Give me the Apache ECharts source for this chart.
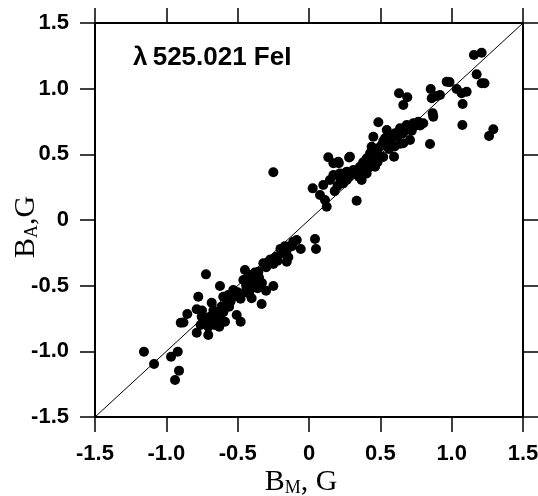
<!DOCTYPE html>
<html>
<head>
<meta charset="utf-8">
<script src="https://cdn.jsdelivr.net/npm/echarts/dist/echarts.min.js"></script>
<style>html,body{margin:0;padding:0;background:#fff}#chart{width:538px;height:496px}</style>
</head>
<body>
<div id="chart"></div>
<script>
// Magnetic field: B_M (x) vs B_A (y), in G
var bmValues = [
 -1.157,-1.086,-0.967,-0.920,-0.911,-0.939,-0.899,-0.880,-0.853,-0.776,-0.787,-0.787,-0.722,-0.624,-0.682,-0.752,-0.729,-0.706,-0.706,-0.671,
 -0.629,-0.589,-0.647,-0.612,-0.577,-0.601,-0.566,-0.531,-0.507,-0.479,-0.449,-0.460,-0.437,-0.402,-0.378,-0.355,-0.414,-0.402,-0.332,-0.301,
 -0.250,-0.320,-0.285,-0.250,-0.227,-0.191,-0.156,-0.133,-0.110,-0.086,-0.145,-0.156,-0.058,0.042,0.049,
 -0.70,-0.66,-0.62,-0.55,-0.52,-0.50,-0.48,-0.45,-0.43,-0.40,-0.38,-0.35,-0.30,-0.27,-0.22,-0.20,-0.17,-0.12,-0.75,-0.76,
 -0.72,-0.67,-0.64,-0.56,-0.60,-0.44,-0.42,-0.36,-0.33,
 -0.250,
 0.026,0.077,0.112,0.124,0.100,0.147,0.171,0.135,0.171,0.205,0.287,0.217,0.264,0.311,0.357,0.381,0.404,0.369,0.240,0.264,
 0.334,0.439,0.428,0.405,0.439,0.463,0.474,0.451,0.486,0.545,0.568,0.603,0.638,0.685,0.731,0.766,0.801,0.533,0.556,0.661,
 0.708,0.596,0.631,0.689,0.661,0.860,0.895,0.918,0.853,0.867,0.871,0.848,0.965,0.985,1.035,1.070,1.105,1.077,1.075,1.156,
 1.210,1.175,1.210,1.230,1.262,1.292,
 0.18,0.20,0.22,0.28,0.30,0.33,0.36,0.40,0.42,0.44,0.46,0.48,0.50,0.45,0.42,0.38,0.35,0.52,0.58,0.62,
 0.66,0.70,0.72,0.75,0.78,0.64,0.60,0.56,0.52,0.48,0.281,0.209
];
var baValues = [
 -1.003,-1.097,-1.041,-1.003,-1.147,-1.218,-0.782,-0.780,-0.716,-0.584,-0.680,-0.858,-0.414,-0.503,-0.630,-0.736,-0.787,-0.812,-0.876,-0.762,
 -0.812,-0.775,-0.711,-0.660,-0.634,-0.584,-0.571,-0.533,-0.723,-0.775,-0.381,-0.457,-0.495,-0.520,-0.470,-0.394,-0.419,-0.596,-0.640,-0.538,
 -0.503,-0.330,-0.318,-0.335,-0.279,-0.254,-0.229,-0.198,-0.165,-0.152,-0.284,-0.318,-0.221,-0.145,-0.221,
 -0.74,-0.80,-0.72,-0.62,-0.58,-0.55,-0.60,-0.55,-0.44,-0.45,-0.40,-0.44,-0.36,-0.30,-0.31,-0.22,-0.20,-0.20,-0.69,-0.80,
 -0.75,-0.69,-0.76,-0.66,-0.70,-0.50,-0.56,-0.52,-0.48,
 0.363,
 0.241,0.190,0.152,0.101,0.266,0.305,0.343,0.478,0.432,0.444,0.482,0.355,0.368,0.381,0.406,0.394,0.355,0.305,0.279,0.305,
 0.147,0.558,0.508,0.470,0.432,0.406,0.457,0.634,0.744,0.685,0.647,0.660,0.698,0.723,0.736,0.748,0.736,0.622,0.596,0.584,
 0.609,0.482,0.965,0.934,0.876,0.927,0.944,0.952,0.997,0.812,0.787,0.579,1.053,1.050,0.997,0.965,0.977,0.883,0.723,1.256,
 1.274,1.109,1.041,1.041,0.640,0.691,
 0.22,0.26,0.31,0.33,0.35,0.36,0.38,0.42,0.46,0.48,0.50,0.52,0.56,0.53,0.40,0.44,0.33,0.60,0.62,0.64,
 0.66,0.70,0.68,0.72,0.72,0.58,0.56,0.54,0.48,0.44,0.476,0.433
];
var diagonalX = [-1.5, 1.5];
var diagonalY = [-1.5, 1.5];
var axisMin = -1.5, axisMax = 1.5, axisStep = 0.5;
var titleText = 'λ\u2009525.021 FeI';

var points = bmValues.map(function (x, i) { return [x, baValues[i]]; });
var diag = diagonalX.map(function (x, i) { return [x, diagonalY[i]]; });

var labelFont = {fontSize: 22, fontWeight: 'bold', color: '#000', fontFamily: 'Liberation Sans, Arial, sans-serif'};
function fmt(v) { return Math.abs(v) < 1e-9 ? '0' : v.toFixed(1); }
var nameRich = {
  b: {fontSize: 30, fontFamily: 'Liberation Serif, Times New Roman, serif', color: '#000', lineHeight: 32, verticalAlign: 'bottom'},
  s: {fontSize: 18, fontFamily: 'Liberation Serif, Times New Roman, serif', color: '#000', lineHeight: 32, verticalAlign: 'bottom'}
};
function mkAxis(pos, showLabel, name, gap, pad) {
  var a = {
    type: 'value', min: axisMin, max: axisMax, interval: axisStep, position: pos,
    axisLine: {show: true, onZero: false, lineStyle: {color: '#000', width: 2}},
    axisTick: {show: true, inside: false, length: 15, lineStyle: {color: '#000', width: 1.5}},
    axisLabel: Object.assign({show: showLabel, margin: 26, formatter: fmt, showMinLabel: true, showMaxLabel: true}, labelFont),
    splitLine: {show: false}
  };
  if (name) {
    a.name = name; a.nameLocation = 'middle'; a.nameGap = gap; a.nameMoveOverlap = false;
    a.nameTextStyle = {rich: nameRich, padding: pad};
  }
  return a;
}
var chart = echarts.init(document.getElementById('chart'));
chart.setOption({
  backgroundColor: '#fff',
  animation: false,
  grid: {left: 95, right: 15, top: 23, bottom: 79, containLabel: false, outerBoundsMode: 'none'},
  title: {text: titleText, left: 128, top: 40, textStyle: {fontSize: 26, fontWeight: 'bold', color: '#000', fontFamily: 'Liberation Sans, Arial, sans-serif'}},
  xAxis: [mkAxis('bottom', true, '{b|B}{s|M}{b|, G}', 48, [0, 16, 0, 0]), mkAxis('top', false)],
  yAxis: [mkAxis('left', true, '{b|B}{s|A}{b|,G}', 54, [0, 14, 0, 0]), mkAxis('right', false)],
  series: [
    {type: 'line', data: diag, symbol: 'none', lineStyle: {color: '#000', width: 1}, z: 1},
    {type: 'scatter', data: points, symbol: 'circle', symbolSize: 10, itemStyle: {color: '#000', opacity: 1}, z: 2}
  ]
});
</script>
</body>
</html>
